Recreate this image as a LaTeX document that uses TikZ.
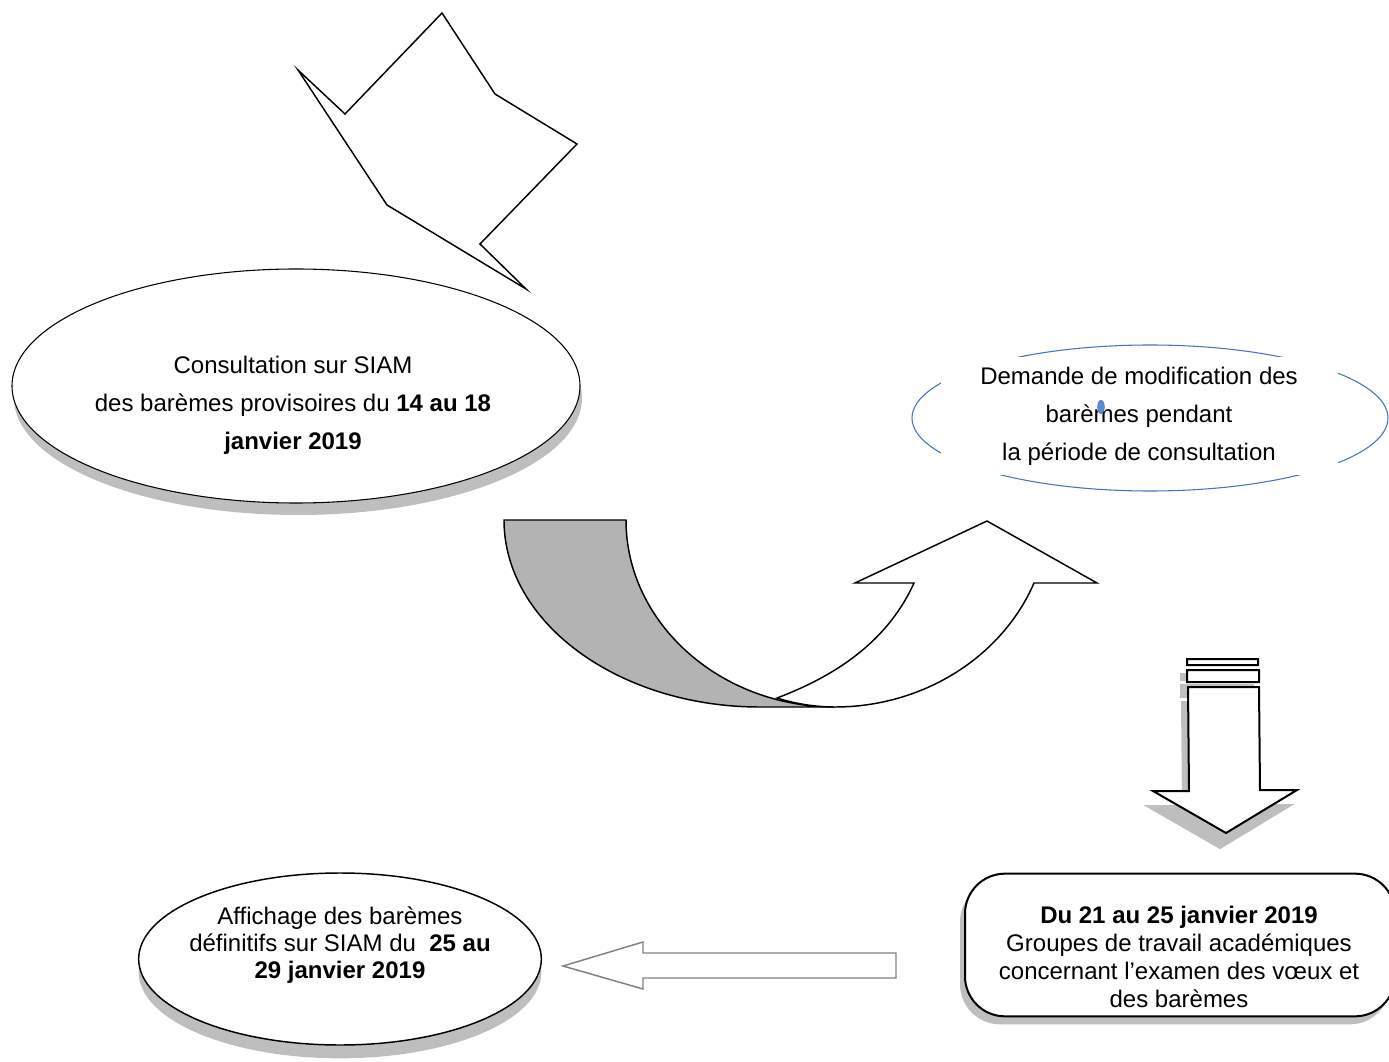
\documentclass[tikz,border=0pt]{standalone}
\usepackage{fontspec}
\setmainfont{Liberation Sans}
\usetikzlibrary{shapes.geometric, shadows}

\definecolor{shadowgray}{RGB}{190,190,190}
\definecolor{bandgray}{RGB}{179,179,179}
\definecolor{ovalblue}{RGB}{68,114,196}
\definecolor{blobblue}{RGB}{91,139,208}

\begin{document}
\begin{tikzpicture}[x=0.75pt, y=-0.75pt,
  shadowed/.style 2 args={drop shadow={shadow xshift=#1, shadow yshift=#2, fill=shadowgray, opacity=1}},
  oval/.style={ellipse, draw, line width=0.8pt, fill=white},
  txt/.style={align=center, font=\fontsize{18}{28.5}\selectfont},
  blockarrow/.style={draw, line width=1.1pt, line join=miter, fill=white}]
  \useasboundingbox (0,0) rectangle (1389,1062);

  % jagged arrow at the top
  \draw[blockarrow] (298,70) -- (345,114) -- (442,13) -- (495,94) -- (577,144)
    -- (480,244) -- (526,289) -- (387,205) -- cycle;

  % consultation
  \node[oval, shadowed={1.5pt}{-9pt}, minimum width=426pt, minimum height=175.5pt] (consult) at (296,386) {};
  \node[txt] (consulttxt) at (293,405) {Consultation sur SIAM\\ des barèmes provisoires du \textbf{14 au 18}\\ \textbf{janvier 2019}};

  % demande de modification
  \node[ellipse, draw=ovalblue, line width=0.8pt, minimum width=357pt, minimum height=109.5pt] (demande) at (1150,418) {};
  \node[txt, fill=white, minimum width=297.75pt, minimum height=88.5pt] (demandetxt) at (1139,416)
    {Demande de modification des\\ barèmes pendant\\ la période de consultation};
  \node[ellipse, fill=blobblue, draw=ovalblue, line width=0.4pt, inner sep=0pt, minimum width=5pt, minimum height=10pt] (blob) at (1101,407) {};

  % u-turn arrow
  \draw[blockarrow, fill=bandgray] (504,520) -- (626,520) .. controls (626,623) and (720,707) .. (835,707)
    -- (760,707) .. controls (619,707) and (504,623) .. (504,520) -- cycle;
  \draw[blockarrow] (835,707) .. controls (923,707) and (1002,657) .. (1034,583) -- (1097,583) -- (987,521)
    -- (855,583) -- (914,583) .. controls (885,647) and (827,679) .. (777,698)
    .. controls (796,704) and (816,707) .. (835,707) -- cycle;

  % down arrow with its shadow
  \foreach \fillcol/\drawcol/\dx/\dy in {shadowgray/shadowgray/-6/15, white/black/0/0} {
    \filldraw[shift={(\dx,\dy)}, fill=\fillcol, draw=\drawcol, line width=1.5pt]
      (1187,659) rectangle (1258,665)
      (1187,670) rectangle (1259,682)
      (1188,687) -- (1259,687) -- (1260,790) -- (1297,790) -- (1226,833) -- (1153,791) -- (1189,791) -- cycle;
  }

  % groupes de travail
  \node[draw, line width=1.5pt, rounded corners=30pt, fill=white, shadowed={-3.75pt}{-6pt},
    minimum width=322.5pt, minimum height=107pt] (groupes) at (1180,945) {};
  \node[txt, font=\fontsize{18}{20.8}\selectfont] (groupestxt) at (1179,957)
    {\textbf{Du 21 au 25 janvier 2019}\\ Groupes de travail académiques\\ concernant l’examen des vœux et\\ des barèmes};

  % affichage
  \node[oval, line width=1.1pt, shadowed={0pt}{-10pt}, minimum width=302pt, minimum height=129pt] (affichage) at (340,959) {};
  \node[txt, font=\fontsize{18}{20.3}\selectfont] (affichagetxt) at (340,945)
    {Affichage des barèmes\\ définitifs sur SIAM du \ \textbf{25 au}\\ \textbf{29 janvier 2019}};

  % arrow to the left
  \draw[blockarrow, draw=gray] (896,953) -- (643,953) -- (643,942) -- (563,966) -- (643,989) -- (643,978)
    -- (896,978) -- cycle;
\end{tikzpicture}
\end{document}
